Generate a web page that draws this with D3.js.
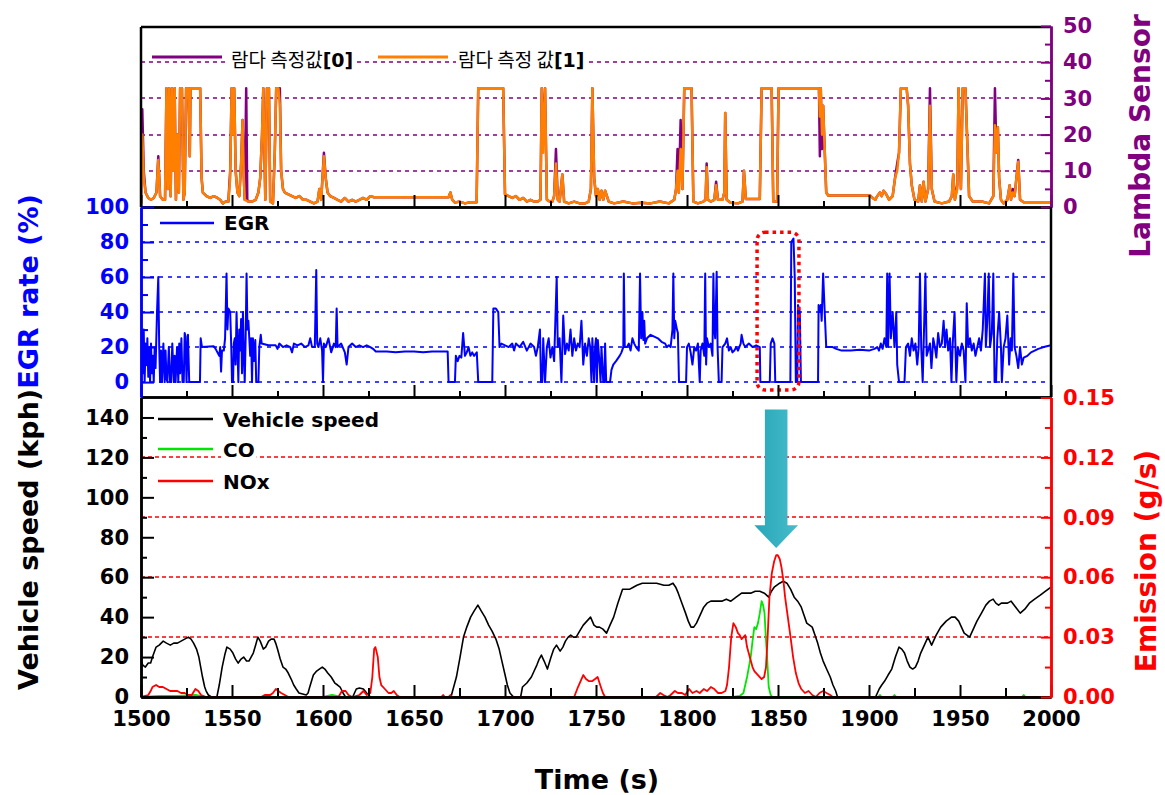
<!DOCTYPE html>
<html><head><meta charset="utf-8">
<script src="https://cdn.jsdelivr.net/npm/d3@7"></script>
<style>
body{margin:0;background:#fff}
svg{display:block;font-family:"DejaVu Sans",Verdana,sans-serif}
</style>
</head><body>
<svg id="chart" width="1165" height="795"></svg>
<script>
// ---- data (time in s) ----
const timeTicks = [1500,1550,1600,1650,1700,1750,1800,1850,1900,1950,2000];
const lambdaTicks = [0,10,20,30,40,50];
const egrTicks = [0,20,40,60,80,100];
const speedTicks = [0,20,40,60,80,100,120,140];
const emissionTicks = [0,0.03,0.06,0.09,0.12,0.15];

const lambda1 = [[1500,1],[1500.7,20],[1501.5,8],[1502.5,4],[1504,2.5],[1505.5,2],[1507,2.5],[1508.5,4],[1509.5,13],[1510.5,3],[1512,2],[1513.2,2],[1514,32.8],[1514.8,5],[1515.5,32.8],[1516.3,3],[1517,32.8],[1517.8,10],[1518.5,32.8],[1519.2,2],[1520,20],[1520.8,4],[1521.5,32.8],[1522.5,32.8],[1523.3,2],[1524,4],[1524.8,32.8],[1526,32.8],[1526.8,14],[1527.2,32.8],[1532.5,32.8],[1533.3,8],[1534,4],[1536,3],[1538,2.5],[1540,3],[1542,2.5],[1543.5,2],[1545,1],[1546.5,1.5],[1548,1.5],[1549,8],[1549.8,32.8],[1550.5,20],[1551.2,32.8],[1552,10],[1553,4],[1554,3],[1555,12],[1555.8,24],[1556.5,8],[1557,2],[1559,1.5],[1561,1.5],[1563,2],[1564.5,4],[1565.5,8],[1566.5,20],[1567.2,32.8],[1568.3,2],[1569.2,32.8],[1570.3,32.8],[1571,1.5],[1572.5,1],[1573.5,15],[1574.3,32.8],[1575.5,32.8],[1576.3,28],[1577,10],[1578,5],[1579,4],[1581,3.5],[1583,3],[1585,2.5],[1587,3],[1589,2],[1591,2],[1593,1.5],[1595,1],[1597,1.5],[1598,5],[1599,2],[1600.5,14],[1601.5,8],[1602.5,4],[1604,3],[1606,2.5],[1608,2],[1610,1.5],[1612,2.5],[1614,1.5],[1616,2],[1618,1.5],[1620,2],[1622,2.5],[1624,2],[1626,3],[1628,2.7],[1669,2.7],[1670,4],[1671,2],[1672.5,1.2],[1675,1.5],[1678,1],[1681,1.3],[1684.4,1.3],[1685.3,32.8],[1699,32.8],[1700,3.5],[1702,3],[1704,2.5],[1706,3],[1708,2],[1710,2.5],[1712,1.5],[1714,2],[1716,1.5],[1718,1.5],[1719.5,2],[1720.2,32.8],[1721,15],[1722,32.8],[1723,2],[1724.5,1.5],[1726,1.5],[1727,3],[1728,12],[1729,2],[1730,1.5],[1731.5,9],[1732.5,1.5],[1735,1],[1738,1.5],[1741,1],[1744,1],[1746,1.5],[1747.2,5],[1748,32.8],[1749,8],[1750,3],[1751,5],[1752,2],[1753,4.5],[1754,2],[1755,4.5],[1756,3],[1757,1.5],[1760,1],[1765,1.5],[1770,1],[1775,1.2],[1780,1],[1785,1.5],[1790,1],[1793,2],[1794,5],[1794.8,10],[1795.5,4],[1796.5,16],[1797.5,5],[1798.5,32.8],[1802.5,32.8],[1803.5,1.5],[1806,1],[1809,1.5],[1810.2,2],[1810.8,11],[1811.5,2],[1813,1.5],[1815,2],[1816,6],[1817,2],[1819.5,2],[1820.5,4],[1821,26],[1821.8,2],[1824,1.2],[1828,1],[1830.5,1.5],[1831.3,10],[1832.3,2.2],[1840,2.2],[1841,32.8],[1846.5,32.8],[1847.4,1.5],[1849.5,1.5],[1850.3,32.8],[1872.5,32.8],[1873,25],[1873.5,32.8],[1874.2,20],[1874.8,28],[1875.5,18],[1876.5,4],[1877.6,3.2],[1900.5,3.2],[1902,2.5],[1903.5,2],[1904.5,3],[1906,4],[1907,3],[1908,4.5],[1909.5,3.5],[1911,2],[1913,3],[1914.3,8],[1915.5,10],[1916.5,15],[1917.5,32.8],[1920.7,32.8],[1921.5,28],[1922.5,12],[1923.5,6],[1925,2],[1927,1.5],[1928,6],[1929,1.5],[1930,7],[1931,1.5],[1932.5,5],[1933.5,28],[1934.5,5],[1936,1.5],[1940,1],[1944,1.5],[1945.5,3],[1946.3,9],[1947.2,2],[1948.5,5],[1949.2,32.8],[1950.5,5],[1951.5,32.8],[1953,32.8],[1954,18],[1955,3],[1957,1.5],[1962,1.5],[1966,1],[1968.3,3],[1969.2,22.6],[1970,15],[1970.8,22],[1971.5,8],[1972.5,2],[1974,1],[1976,2],[1977.3,6],[1978,2],[1979,4],[1980,3],[1981,8],[1982,12.5],[1983,2],[1985,1.3],[2000,1.3]];

const lambda0 = [[1500,1],[1500.7,27],[1501.5,10],[1502.5,4],[1504,2.5],[1505.5,2],[1507,2.5],[1508.5,4],[1509.5,14],[1510.5,3],[1512,2],[1513.2,2],[1514,32.8],[1514.8,5],[1515.5,32.8],[1516.3,3],[1517,32.8],[1517.8,10],[1518.5,32.8],[1519.2,2],[1520,20],[1520.8,4],[1521.5,32.8],[1522.5,32.8],[1523.3,2],[1524,4],[1524.8,32.8],[1526,32.8],[1526.8,14],[1527.2,32.8],[1532.5,32.8],[1533.3,8],[1534,4],[1536,3],[1538,2.5],[1540,3],[1542,2.5],[1543.5,2],[1545,1],[1546.5,1.5],[1548,1.5],[1549,10],[1549.8,32.8],[1550.5,20],[1551.2,32.8],[1552,10],[1553,4],[1554,3],[1555,12],[1555.8,24],[1556.5,8],[1557,2],[1557.8,32.8],[1558.4,2],[1559,1.5],[1561,1.5],[1563,2],[1564.5,4],[1565.5,8],[1566.5,20],[1567.2,32.8],[1568.3,2],[1569.2,32.8],[1570.3,32.8],[1571,1.5],[1572.5,1],[1573.5,15],[1574.3,32.8],[1575.5,32.8],[1576.3,32.8],[1577,10],[1578,5],[1579,4],[1581,3.5],[1583,3],[1585,2.5],[1587,3],[1589,2],[1591,2],[1593,1.5],[1595,1],[1597,1.5],[1598,5],[1599,2],[1600.5,15],[1601.5,8],[1602.5,4],[1604,3],[1606,2.5],[1608,2],[1610,1.5],[1612,2.5],[1614,1.5],[1616,2],[1618,1.5],[1620,2],[1622,2.5],[1624,2],[1626,3],[1628,2.7],[1669,2.7],[1670,4],[1671,2],[1672.5,1.2],[1675,1.5],[1678,1],[1681,1.3],[1684.4,1.3],[1685.3,32.8],[1699,32.8],[1700,3.5],[1702,3],[1704,2.5],[1706,3],[1708,2],[1710,2.5],[1712,1.5],[1714,2],[1716,1.5],[1718,1.5],[1719.5,2],[1720.2,32.8],[1721,20],[1722,32.8],[1723,2],[1724.5,1.5],[1726,1.5],[1727,3],[1728,16],[1729,2],[1730,1.5],[1731.5,9],[1732.5,1.5],[1735,1],[1738,1.5],[1741,1],[1744,1],[1746,1.5],[1747.2,5],[1748,32.8],[1749,8],[1750,3],[1751,5],[1752,2],[1753,4.5],[1754,2],[1755,4.5],[1756,3],[1757,1.5],[1760,1],[1765,1.5],[1770,1],[1775,1.2],[1780,1],[1785,1.5],[1790,1],[1793,2],[1794,5],[1794.8,16],[1795.5,4],[1796.5,24],[1797.5,5],[1798.5,32.8],[1802.5,32.8],[1803.5,1.5],[1806,1],[1809,1.5],[1810.2,2],[1810.8,12],[1811.5,2],[1813,1.5],[1815,2],[1816,7],[1817,2],[1819.5,2],[1820.5,4],[1821,26],[1821.8,2],[1824,1.2],[1828,1],[1830.5,1.5],[1831.3,10],[1832.3,2.2],[1840,2.2],[1841,32.8],[1846.5,32.8],[1847.4,1.5],[1849.5,1.5],[1850.3,32.8],[1872.5,32.8],[1873,14],[1873.5,32.8],[1874.2,16],[1874.8,28],[1875.5,18],[1876.5,4],[1877.6,3.2],[1900.5,3.2],[1902,2.5],[1903.5,2],[1904.5,3],[1906,4],[1907,3],[1908,4.5],[1909.5,3.5],[1911,2],[1913,3],[1914.3,8],[1915.5,12],[1916.5,15],[1917.5,32.8],[1920.7,32.8],[1921.5,28],[1922.5,12],[1923.5,6],[1925,2],[1927,1.5],[1928,6],[1929,1.5],[1930,7],[1931,1.5],[1932.5,5],[1933.5,32.8],[1934.5,5],[1936,1.5],[1940,1],[1944,1.5],[1945.5,3],[1946.3,9],[1947.2,2],[1948.5,6],[1949.2,32.8],[1950.5,5],[1951.5,32.8],[1953,32.8],[1954,18],[1955,3],[1957,1.5],[1962,1.5],[1966,1],[1968.3,3],[1969.2,32.8],[1970,15],[1970.8,22],[1971.5,8],[1972.5,2],[1974,1],[1976,2],[1977.3,6],[1978,2],[1979,5],[1980,3],[1981,8],[1982,13],[1983,2],[1985,1.3],[2000,1.3]];

const egr = [[1500,0],[1500.5,28],[1501,5],[1501.5,30],[1502,0],[1502.5,22],[1503,10],[1503.5,25],[1504,3],[1504.5,20],[1505,0],[1505.5,22],[1506,5],[1506.5,15],[1507,0],[1507.5,20],[1508,8],[1508.8,40],[1509.5,60],[1510,20],[1510.5,0],[1511,18],[1511.5,0],[1512.3,22],[1513,0],[1513.5,18],[1514,2],[1514.5,0],[1515.3,20],[1516,0],[1516.5,0],[1517.2,22],[1518,0],[1518.5,15],[1519,0],[1519.8,20],[1520.5,0],[1521,22],[1521.5,5],[1522.2,25],[1522.8,0],[1523.5,0],[1524,28],[1524.5,26],[1525,0],[1525.8,27],[1526.5,0],[1532.4,0],[1532.8,25],[1533.5,20],[1540,20.5],[1541,19],[1542,17],[1543,15],[1543.5,20],[1544,6],[1544.5,18],[1545.5,18],[1546.2,25],[1547,62],[1547.5,30],[1548,42],[1549,40],[1549.6,20],[1550,0],[1550.6,0],[1551,22],[1551.5,25],[1552,10],[1552.5,40],[1553,20],[1553.5,0],[1554,30],[1554.5,18],[1555,36],[1555.5,5],[1556,40],[1556.5,15],[1557,0],[1557.5,25],[1558,62],[1558.5,30],[1559,35],[1559.5,25],[1560,15],[1560.5,25],[1561,0],[1561.5,25],[1562,12],[1562.8,24],[1563.3,0],[1564.5,0],[1565,20],[1565.8,27],[1566.3,22],[1570,21],[1574,21],[1575,19],[1576,22],[1578,20],[1580,21],[1582,20],[1583,17],[1584,22],[1586,21],[1588,22],[1590,20],[1592,21],[1593,25],[1594,20],[1595.5,20],[1596.3,64],[1596.8,22],[1597.5,20],[1598.5,25],[1599.5,18],[1600,0],[1600.5,22],[1601.5,20],[1603,25],[1604.5,17],[1606,22],[1607,20],[1607.5,42],[1608,20],[1610,22],[1612,17],[1613,10],[1614,20],[1616,22],[1618,20],[1620,21],[1622,20],[1624,21],[1626,20],[1627.5,19],[1629,17.5],[1635,17.5],[1640,17],[1645,17.5],[1650,17.5],[1655,17],[1660,17.5],[1668.5,17.5],[1669,0],[1672.5,0],[1673,15],[1674,12],[1675,15],[1676,14],[1677,28],[1678,15],[1679,17],[1680,20],[1681,15],[1682,17],[1683,15],[1684.5,17],[1685.3,0],[1693,0],[1693.6,42],[1695,42],[1696.3,40],[1697,20],[1698,22],[1700,21],[1702,20],[1704,22],[1705,18],[1706,22],[1708,20],[1710,23],[1712,18],[1714,22],[1716,20],[1717,15],[1718,20],[1719.2,30],[1719.8,0],[1720.5,0],[1721,25],[1722,0],[1723,20],[1724,25],[1725,14],[1726,20],[1727,12],[1728.4,60],[1729,20],[1730,25],[1731,0],[1732,38],[1733,16],[1734,22],[1735,18],[1736,30],[1737,15],[1738,25],[1739,18],[1740,22],[1741,20],[1742,35],[1743,10],[1744,22],[1745,15],[1746,25],[1746.8,20],[1747.5,0],[1748,25],[1749,0],[1749.5,20],[1750,25],[1750.5,0],[1751,24],[1752,10],[1752.5,0],[1753,20],[1754,0],[1754.5,0],[1755,22],[1755.6,0],[1757.7,0],[1758.5,7],[1759.5,10],[1761,12],[1763,15],[1764,17],[1765,20],[1765.3,62],[1765.8,20],[1767,20],[1768,22],[1769,18],[1770,25],[1771,22],[1772,20],[1773.5,18],[1774.2,62],[1774.8,25],[1775.5,40],[1776,24],[1776.5,35],[1777,22],[1778,25],[1780,27],[1782,26],[1784,25],[1786,23],[1788,22],[1789,20],[1790,21],[1791,20],[1792,30],[1792.5,62],[1793,25],[1793.5,35],[1794.5,30],[1795,28],[1795.6,0],[1799.5,0],[1800,20],[1801,22],[1802,17],[1803,10],[1804,20],[1805,18],[1806,22],[1807,0],[1807.5,18],[1808.5,22],[1809.5,15],[1810,62],[1810.5,10],[1811,25],[1812,20],[1813,22],[1814,15],[1814.5,62],[1815,30],[1815.5,25],[1816.3,63],[1816.8,20],[1817.5,0],[1819,0],[1819.5,20],[1821,22],[1822,25],[1823,18],[1824,20],[1825,17],[1826,18],[1827,20],[1828,18],[1829.5,22],[1830,27],[1831,22],[1832,20],[1834,22],[1836,20],[1838,21],[1840,20],[1840.3,0],[1845.5,0],[1846,22],[1847,25],[1848,22],[1848.5,0],[1856.8,0],[1857.3,80],[1858.5,82],[1859.2,60],[1859.8,0],[1860.6,0],[1861,44],[1862,40],[1862.6,0],[1872,0],[1872.3,44],[1873,40],[1873.5,44],[1874,35],[1874.8,62],[1875.5,44],[1876.5,20],[1880,20],[1882,19],[1885,18],[1890,18],[1895,18.5],[1900,18],[1903,19],[1904.5,20],[1905.5,18],[1906.5,22],[1907.5,19],[1908.5,25],[1909.5,20],[1910,62],[1910.5,20],[1911.3,62],[1912,25],[1913,40],[1914,20],[1915,40],[1915.5,10],[1916.5,0],[1919.5,0],[1920.3,20],[1921.5,22],[1922.5,15],[1923.5,25],[1924.5,18],[1925.5,22],[1926.5,10],[1927.3,20],[1928,62],[1928.7,20],[1929.5,0],[1930,20],[1931,62],[1931.7,15],[1932.5,18],[1933.5,22],[1934.3,8],[1935.3,25],[1936.2,20],[1937,14],[1938,28],[1939,20],[1940,22],[1941,35],[1941.8,20],[1942.6,30],[1943.5,18],[1944.5,25],[1945.3,0],[1946,22],[1947,40],[1948,0],[1948.8,20],[1950,15],[1951,22],[1952,18],[1953,0],[1953.7,45],[1954.5,20],[1955.5,25],[1956.5,18],[1957.5,22],[1958.5,15],[1959.5,20],[1960.5,25],[1961.5,18],[1962.5,30],[1963.7,62],[1964.2,20],[1965,35],[1965.8,62],[1966.5,20],[1967.5,28],[1968.3,62],[1969,0],[1969.8,0],[1970.5,25],[1971.5,40],[1972.5,20],[1973,0],[1974,20],[1975,25],[1976,38],[1977,10],[1977.8,25],[1978.5,18],[1979.3,62],[1980,20],[1981,15],[1982,8],[1983,20],[1984,10],[1985,14],[1987,15],[1989,17],[1991,18],[1993,19],[1996,20],[2000,21]];

const speed = [[1500,18],[1501,16],[1502.4,15],[1504,17],[1505.3,17],[1506.3,20],[1508.3,25],[1510,26],[1512.2,28],[1514,27],[1516.1,26],[1518,27],[1520,27],[1522,28],[1524,29],[1526,30],[1527.5,29],[1528.9,27],[1530.5,24],[1531.8,20],[1532.8,15],[1533.8,10],[1535,5],[1535.8,3],[1537,1],[1538.7,0],[1541.7,0],[1543,6],[1544.6,15],[1546,21],[1547.2,25],[1549,24],[1550.5,22],[1552,19],[1553.4,17],[1555,19],[1556.4,20],[1558,18],[1559.3,18],[1560.5,20],[1561.7,22],[1563,26],[1564.2,30],[1565.5,28],[1567.2,24],[1568.5,25],[1570.1,28],[1571.5,29],[1573.1,29],[1574,27],[1575,24],[1576.5,19],[1578,15],[1579.5,14],[1580.9,12],[1582.5,9],[1583.9,6],[1585.3,4],[1586.8,2],[1588.8,1.5],[1590.8,1],[1591.8,2],[1592.7,5],[1594.7,11],[1596.5,13],[1598,14],[1599.6,15],[1601,14],[1602.6,12],[1604.5,10],[1606.5,7],[1608,6],[1609.4,5],[1611,2],[1612.4,0],[1616.3,0],[1617.3,2],[1618.3,4],[1620,4.5],[1622.2,4],[1624,2],[1626.1,0],[1670.3,0],[1671.8,5],[1673.3,10],[1675.3,20],[1677.2,30],[1679,35],[1681.1,40],[1683,43],[1685.1,46],[1687,43],[1689,40],[1691,36],[1692.9,33],[1695,29],[1696.8,24],[1698.3,18],[1699.8,12],[1701.3,6],[1702.7,2],[1704.7,0],[1708.6,0],[1709.6,5],[1712,7],[1714.5,10],[1716,13],[1717.5,16],[1718.8,19],[1720,21],[1721.5,18],[1723.3,14],[1724.3,17],[1725.3,20],[1726.8,24],[1728.3,26],[1730.3,23],[1731.8,25],[1733.2,28],[1734.7,30],[1736.1,31],[1737.6,30],[1739.1,30],[1741,33],[1743,36],[1745,38],[1747,40],[1748.9,36],[1750.4,35],[1751.9,35],[1753.8,34],[1755.8,32],[1757.7,36],[1759.7,40],[1762,47],[1764.6,54],[1766.6,54],[1768.6,54],[1770.5,55],[1772.5,56],[1775.4,57],[1779,57],[1783.3,57],[1787.3,56],[1790,56],[1792.3,57],[1793.8,55],[1795.2,52],[1797.2,47],[1799.2,42],[1800.7,38],[1802.2,35],[1803.7,35],[1805.2,37],[1807.2,41],[1809.2,45],[1811,47],[1813.1,48],[1816,48],[1819.1,48],[1821.6,49],[1824.1,48],[1827,50],[1830,52],[1832.5,52],[1835,52],[1837.5,53],[1840,53],[1842.5,52],[1844.9,50],[1846.4,53],[1847.9,55],[1850.9,57],[1852.9,58],[1854.9,57],[1856.9,54],[1858.9,50],[1860.8,48],[1862.8,45],[1864.3,41],[1865.8,37],[1867.3,36],[1868.8,35],[1870.3,31],[1871.8,27],[1873.3,22],[1874.8,18],[1876.7,14],[1878.7,10],[1880.2,6],[1881.7,3],[1882.7,0],[1903.6,0],[1905.6,4],[1907,6],[1908.6,8],[1910.5,11],[1912.5,14],[1914.5,20],[1916.5,25],[1918,24],[1919.5,22],[1921,18],[1922.5,15],[1924,14],[1925.5,15],[1927,18],[1928.4,22],[1930.4,26],[1932.4,30],[1934.4,26],[1936.9,31],[1939.4,35],[1942.4,38],[1945.3,40],[1947.3,40],[1949.3,38],[1950.8,35],[1952.3,32],[1953.8,31],[1955.3,30],[1957.3,34],[1959.3,38],[1961.8,42],[1964.2,46],[1966.2,48],[1968.2,49],[1969.7,47],[1971.2,46],[1972.7,47],[1974.2,47],[1976.1,47],[1978.1,48],[1980.6,45],[1983.1,42],[1985.6,44],[1988.1,47],[1991,49],[1994.1,51],[1997,53],[2000,55]];

const co = [[1500,0],[1510,0.0005],[1520,0.0005],[1530,0.001],[1535,0],[1600,0],[1605,0.001],[1610,0],[1825,0],[1829,0.0005],[1831,0.002],[1833,0.01],[1834,0.015],[1835,0.02],[1836,0.028],[1837,0.035],[1838,0.034],[1839,0.037],[1840,0.042],[1841,0.048],[1841.8,0.046],[1842.6,0.042],[1843.3,0.03],[1844,0.02],[1844.9,0.005],[1846,0.001],[1847,0],[1905,0],[1906,0.001],[1907,0],[1913,0],[1914,0.001],[1915,0],[1984,0],[1985,0.001],[1986,0],[2000,0]];

const nox = [[1500,0],[1504,0.001],[1505.3,0.003],[1506.3,0.005],[1508.3,0.006],[1510,0.005],[1512,0.005],[1514,0.004],[1516,0.003],[1520,0.003],[1522,0.002],[1524,0.002],[1526,0.001],[1527.9,0.001],[1529.9,0.004],[1531.5,0.003],[1533,0.001],[1535.8,0],[1566,0],[1568,0.001],[1571,0.001],[1572.5,0.002],[1574.1,0.004],[1575.5,0.003],[1577,0.002],[1579,0.001],[1581,0],[1608.5,0],[1610.4,0.003],[1612.4,0.003],[1614,0.001],[1616,0],[1620,0.001],[1622.2,0.003],[1624,0.001],[1626,0.002],[1627.1,0.01],[1628.1,0.024],[1628.8,0.025],[1630.1,0.02],[1631,0.01],[1632,0.006],[1634,0.004],[1636,0.002],[1637.5,0.002],[1638.9,0.003],[1640.5,0.001],[1642,0],[1665,0],[1666,0.001],[1667,0],[1669,0],[1670,0.001],[1671,0],[1738,0],[1740.1,0.005],[1743,0.011],[1744.5,0.009],[1746,0.008],[1748,0.008],[1749.5,0.009],[1750.9,0.01],[1752.3,0.006],[1753.8,0.002],[1755,0],[1783,0],[1785.3,0.002],[1787,0.001],[1789.3,0],[1791,0.001],[1793.3,0.003],[1795,0.002],[1797.2,0.002],[1799,0.001],[1801.2,0.004],[1803,0.002],[1805.2,0.003],[1807,0.002],[1809.2,0.004],[1811,0.003],[1813.1,0.005],[1815,0.004],[1817.1,0.002],[1819,0.002],[1821.1,0.003],[1822,0.006],[1823.1,0.015],[1824.3,0.03],[1825.5,0.037],[1826.8,0.035],[1828,0.032],[1829,0.031],[1830,0.029],[1831,0.03],[1832,0.031],[1833,0.025],[1834.5,0.02],[1836,0.015],[1837,0.013],[1839,0.011],[1841,0.009],[1842.4,0.01],[1843.4,0.015],[1844.3,0.03],[1845.3,0.05],[1846.6,0.062],[1847.9,0.068],[1849,0.071],[1849.9,0.071],[1851,0.069],[1851.9,0.065],[1853,0.058],[1853.9,0.05],[1855.4,0.04],[1856.9,0.03],[1858.3,0.02],[1859.8,0.012],[1861.3,0.007],[1862.8,0.004],[1864.8,0.002],[1866.8,0.003],[1868.8,0.001],[1870.8,0],[1872.8,0.002],[1874.8,0.003],[1876.7,0.002],[1878.7,0.001],[1880,0],[2000,0]];

// highlight box (time, EGR %) and arrow (time, g/s)
const boxTime = [1838.5, 1861.5];
const boxEgr = [-4.5, 85.6];
const arrowTime = 1849;
const arrowEmission = [0.144, 0.086, 0.0746];

// ---- layout ----
const svg = d3.select("#chart");
const X0 = 141, X1 = 1051;
const TOP = [27, 207], MID = [207, 397], BOT = [397, 697];

const x = d3.scaleLinear().domain([1500, 2000]).range([X0, X1]);
const yLam = d3.scaleLinear().domain([0, 50]).range([TOP[1], 26]);
const yEgr = d3.scaleLinear().domain([-8.5, 100]).range([MID[1], MID[0]]);
const ySpd = d3.scaleLinear().domain([0, 150]).range([BOT[1], BOT[0] + 0.5]);
const yEm = d3.scaleLinear().domain([0, 0.15]).range([BOT[1], BOT[0] + 0.5]);

const PURPLE = "#800080", ORANGE = "#ff8000", BLUE = "#0000ff", RED = "#ff0000", GREEN = "#00e600";
const defs = svg.append("defs");

function clip(id, band) {
    defs.append("clipPath").attr("id", id).append("rect")
        .attr("x", X0).attr("y", band[0]).attr("width", X1 - X0).attr("height", band[1] - band[0]);
}
clip("c-top", TOP); clip("c-mid", MID); clip("c-bot", BOT);

// gridlines
function grid(vals, scale, color, dash) {
    svg.append("g").selectAll("line").data(vals).join("line")
        .attr("x1", X0).attr("x2", X1)
        .attr("y1", d => Math.round(scale(d))).attr("y2", d => Math.round(scale(d)))
        .attr("stroke", color).attr("stroke-width", 1.5).attr("stroke-dasharray", dash);
}
grid([10, 20, 30, 40], yLam, PURPLE, "4,4");
grid([0, 20, 40, 60, 80], yEgr, BLUE, "4,5");
grid([30, 60, 90, 120], ySpd, RED, "4,3");

// series
function series(data, yScale, color, width, clipId) {
    svg.append("path").datum(data)
        .attr("clip-path", `url(#${clipId})`)
        .attr("fill", "none").attr("stroke", color).attr("stroke-width", width)
        .attr("stroke-linejoin", "round")
        .attr("d", d3.line().x(d => x(d[0])).y(d => yScale(d[1])));
}
series(lambda0, yLam, PURPLE, 2.5, "c-top");
series(lambda1, yLam, ORANGE, 2.5, "c-top");
series(egr, yEgr, BLUE, 2, "c-mid");
series(speed, ySpd, "#000", 1.6, "c-bot");
series(co, yEm, GREEN, 1.8, "c-bot");
series(nox, yEm, RED, 1.8, "c-bot");

// legends
function legendText(g, tx, ty, parts, size) {
    const t = g.append("text").attr("x", tx).attr("y", ty).attr("font-size", size);
    parts.forEach(p => t.append("tspan").text(p.s)
        .attr("font-family", p.f || null).attr("font-weight", p.w || "bold"));
    const bb = t.node().getBBox();
    g.insert("rect", "text").attr("x", bb.x - 2).attr("y", bb.y).attr("width", bb.width + 4)
        .attr("height", bb.height).attr("fill", "#fff");
    return t;
}
const KR = "'Noto Sans CJK KR', sans-serif";
const lgTop = svg.append("g");
lgTop.append("line").attr("x1", 152).attr("x2", 222).attr("y1", 57).attr("y2", 57).attr("stroke", PURPLE).attr("stroke-width", 3);
legendText(lgTop, 231, 67, [{s: "람다 측정값", f: KR, w: "normal"}, {s: "[0]"}], 19);
lgTop.append("line").attr("x1", 378).attr("x2", 448).attr("y1", 57).attr("y2", 57).attr("stroke", ORANGE).attr("stroke-width", 3);
legendText(lgTop, 458, 67, [{s: "람다 측정 값", f: KR, w: "normal"}, {s: "[1]"}], 19);

const lgMid = svg.append("g");
lgMid.append("line").attr("x1", 160).attr("x2", 214).attr("y1", 223).attr("y2", 223).attr("stroke", BLUE).attr("stroke-width", 2.5);
legendText(lgMid, 224, 230, [{s: "EGR"}], 20);

const botItems = [["Vehicle speed", "#000", 419], ["CO", GREEN, 449], ["NOx", RED, 481]];
botItems.forEach(([label, color, yy]) => {
    const g = svg.append("g");
    g.append("rect").attr("x", 155).attr("y", yy - 5).attr("width", 64).attr("height", 10).attr("fill", "#fff");
    g.append("line").attr("x1", 158).attr("x2", 213).attr("y1", yy).attr("y2", yy).attr("stroke", color).attr("stroke-width", 2.5);
    legendText(g, 223, yy + 8, [{s: label}], 20);
});

// highlight box & arrow
svg.append("rect")
    .attr("x", x(boxTime[0])).attr("y", yEgr(boxEgr[1]))
    .attr("width", x(boxTime[1]) - x(boxTime[0])).attr("height", yEgr(boxEgr[0]) - yEgr(boxEgr[1]))
    .attr("rx", 8).attr("fill", "none").attr("stroke", RED).attr("stroke-width", 3.5)
    .attr("stroke-dasharray", "3.5,4");

const grad = defs.append("linearGradient").attr("id", "teal").attr("x1", 0).attr("x2", 1);
grad.append("stop").attr("offset", 0).attr("stop-color", "#27a6b8");
grad.append("stop").attr("offset", 1).attr("stop-color", "#47bccb");
const ax = x(arrowTime), sw = x(arrowTime + 6.2) - ax, hw = x(arrowTime + 12) - ax;
const [a0, a1, a2] = arrowEmission.map(yEm);
svg.append("path").attr("fill", "url(#teal)")
    .attr("d", `M${ax - sw},${a0}H${ax + sw}V${a1}H${ax + hw}L${ax},${a2}L${ax - hw},${a1}H${ax - sw}Z`);

// axes
function styleAxis(g, color, labelColor) {
    g.select(".domain").attr("stroke", color).attr("stroke-width", 2.5);
    g.selectAll(".tick line").attr("stroke", color).attr("stroke-width", 2);
    g.selectAll(".tick text").attr("fill", labelColor || color)
        .attr("font-size", 21).attr("font-weight", "bold").attr("font-family", "'DejaVu Sans', Verdana, sans-serif");
}
function hline(y, color) {
    svg.append("line").attr("x1", X0).attr("x2", X1).attr("y1", y).attr("y2", y)
        .attr("stroke", color).attr("stroke-width", 2.5);
}
function vline(xx, band, color) {
    svg.append("line").attr("x1", xx).attr("x2", xx).attr("y1", band[0]).attr("y2", band[1])
        .attr("stroke", color).attr("stroke-width", 2.5);
}
const minorTimes = d3.range(1525, 2000, 50);

// top panel
hline(TOP[0], "#000");
vline(X0, TOP, "#000");
[TOP[1], MID[1]].forEach(yy => {
    styleAxis(svg.append("g").attr("transform", `translate(0,${yy})`)
        .call(d3.axisBottom(x).tickValues(timeTicks).tickSizeInner(-12).tickSizeOuter(0).tickFormat("")), "#000");
    styleAxis(svg.append("g").attr("transform", `translate(0,${yy})`)
        .call(d3.axisBottom(x).tickValues(minorTimes).tickSizeInner(-6).tickSizeOuter(0).tickFormat("")), "#000");
});
styleAxis(svg.append("g").attr("transform", `translate(${X1},0)`)
    .call(d3.axisRight(yLam).tickValues(lambdaTicks).tickSizeInner(-10).tickSizeOuter(0).tickPadding(12)), PURPLE);
styleAxis(svg.append("g").attr("transform", `translate(${X1},0)`)
    .call(d3.axisRight(yLam).tickValues([5, 15, 25, 35, 45]).tickSizeInner(-6).tickSizeOuter(0).tickFormat("")), PURPLE);

// middle panel
vline(X1, MID, "#000");
styleAxis(svg.append("g").attr("transform", `translate(${X0},0)`)
    .call(d3.axisLeft(yEgr).tickValues(egrTicks).tickSizeInner(-13).tickSizeOuter(0).tickPadding(12)), BLUE);
styleAxis(svg.append("g").attr("transform", `translate(${X0},0)`)
    .call(d3.axisLeft(yEgr).tickValues([10, 30, 50, 70, 90]).tickSizeInner(-7).tickSizeOuter(0).tickFormat("")), BLUE);

// bottom panel
styleAxis(svg.append("g").attr("transform", `translate(0,${BOT[1]})`)
    .call(d3.axisBottom(x).tickValues(timeTicks).tickSizeInner(-12).tickSizeOuter(0).tickPadding(14).tickFormat(d3.format("d"))), "#000");
styleAxis(svg.append("g").attr("transform", `translate(0,${BOT[1]})`)
    .call(d3.axisBottom(x).tickValues(minorTimes).tickSizeInner(-9).tickSizeOuter(0).tickFormat("")), "#000");
styleAxis(svg.append("g").attr("transform", `translate(${X0},0)`)
    .call(d3.axisLeft(ySpd).tickValues(speedTicks).tickSizeInner(-13).tickSizeOuter(0).tickPadding(12)), "#000");
styleAxis(svg.append("g").attr("transform", `translate(${X0},0)`)
    .call(d3.axisLeft(ySpd).tickValues([10, 30, 50, 70, 90, 110, 130]).tickSizeInner(-6).tickSizeOuter(0).tickFormat("")), "#000");
styleAxis(svg.append("g").attr("transform", `translate(${X1},0)`)
    .call(d3.axisRight(yEm).tickValues(emissionTicks).tickSizeInner(-10).tickSizeOuter(0).tickPadding(12).tickFormat(d3.format(".2f"))), RED);
styleAxis(svg.append("g").attr("transform", `translate(${X1},0)`)
    .call(d3.axisRight(yEm).tickValues([0.015, 0.045, 0.075, 0.105, 0.135]).tickSizeInner(-6).tickSizeOuter(0).tickFormat("")), RED);

// titles
const leftTitle = svg.append("text").attr("transform", "translate(28,442) rotate(-90)")
    .attr("text-anchor", "middle").attr("dominant-baseline", "central")
    .attr("font-size", 27).attr("font-weight", "bold");
leftTitle.append("tspan").attr("fill", "#000").text("Vehicle speed (kph)");
leftTitle.append("tspan").attr("fill", BLUE).text("EGR rate (%)");

svg.append("text").attr("transform", "translate(1140,136) rotate(-90)")
    .attr("text-anchor", "middle").attr("dominant-baseline", "central")
    .attr("font-size", 28).attr("font-weight", "bold").attr("fill", PURPLE).text("Lambda Sensor");
svg.append("text").attr("transform", "translate(1146,561) rotate(-90)")
    .attr("text-anchor", "middle").attr("dominant-baseline", "central")
    .attr("font-size", 28).attr("font-weight", "bold").attr("fill", RED).text("Emission (g/s)");
svg.append("text").attr("x", 597).attr("y", 789).attr("text-anchor", "middle")
    .attr("font-size", 27).attr("font-weight", "bold").text("Time (s)");
</script>
</body></html>
